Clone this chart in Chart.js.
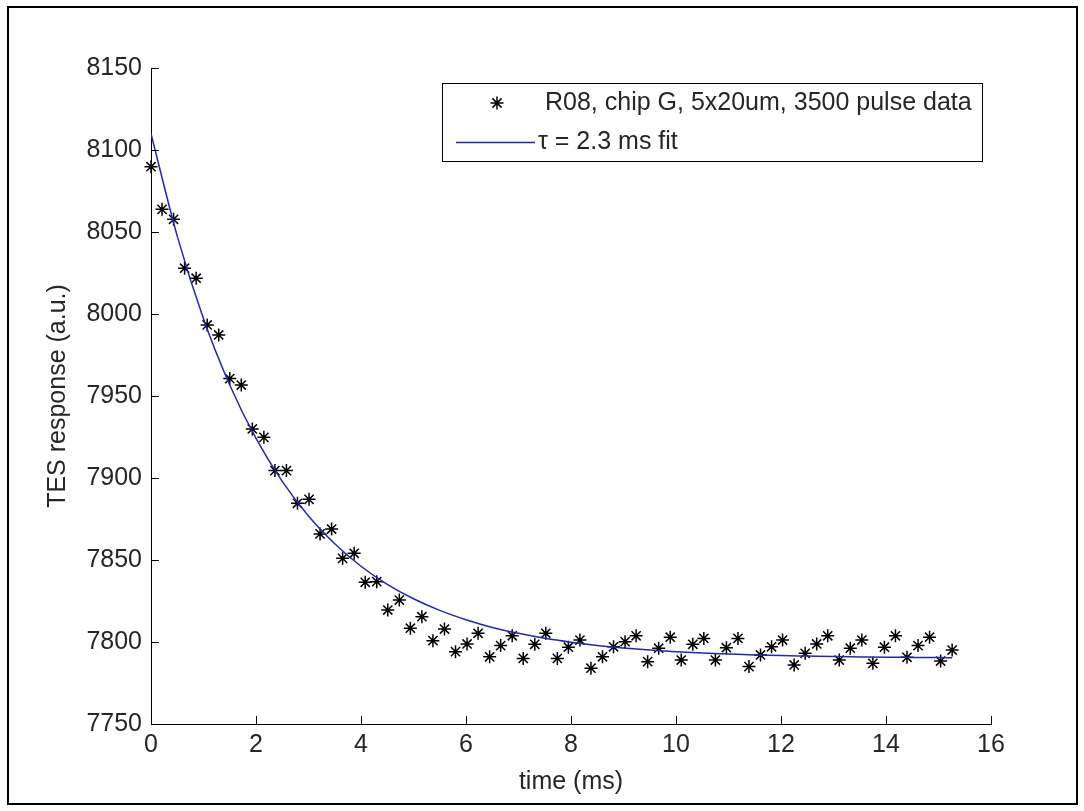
<!DOCTYPE html>
<html>
<head>
<meta charset="utf-8">
<script src="https://cdn.jsdelivr.net/npm/chart.js@4/dist/chart.umd.min.js"></script>
<style>
  html, body { margin: 0; padding: 0; background: #fff; }
  #wrap { width: 1084px; height: 811px; position: relative; }
</style>
</head>
<body>
<div id="wrap"><canvas id="c" width="1084" height="811"></canvas></div>
<script>
// ---- data ----
const timeMs = [0, 0.21, 0.43, 0.64, 0.86, 1.07, 1.29, 1.50, 1.72, 1.93,
  2.15, 2.36, 2.58, 2.79, 3.01, 3.22, 3.44, 3.65, 3.87, 4.08,
  4.30, 4.51, 4.73, 4.94, 5.16, 5.37, 5.59, 5.80, 6.02, 6.23,
  6.45, 6.66, 6.88, 7.09, 7.31, 7.52, 7.74, 7.95, 8.17, 8.38,
  8.60, 8.81, 9.03, 9.24, 9.46, 9.67, 9.89, 10.10, 10.32, 10.53,
  10.75, 10.96, 11.18, 11.39, 11.61, 11.82, 12.03, 12.25, 12.46, 12.68,
  12.89, 13.11, 13.32, 13.54, 13.75, 13.97, 14.18, 14.40, 14.61, 14.83,
  15.04, 15.26];
const pulseData = [8089.8, 8063.8, 8057.7, 8027.9, 8021.8, 7993.3, 7987.2, 7960.6, 7956.7, 7929.9,
  7924.8, 7904.5, 7904.5, 7884.6, 7887.0, 7865.9, 7868.9, 7851.0, 7854.1, 7836.4,
  7836.8, 7819.5, 7825.6, 7808.4, 7815.4, 7800.8, 7807.9, 7794.1, 7798.8, 7805.3,
  7791.0, 7797.8, 7803.8, 7790.0, 7798.6, 7805.3, 7790.0, 7796.8, 7801.2, 7784.0,
  7791.0, 7797.1, 7800.2, 7803.8, 7788.0, 7796.2, 7802.9, 7789.0, 7798.6, 7802.2,
  7789.0, 7796.5, 7802.2, 7785.0, 7792.1, 7797.1, 7801.2, 7786.0, 7793.1, 7798.8,
  7803.8, 7789.0, 7796.2, 7801.2, 7787.0, 7796.8, 7803.8, 7790.7, 7797.8, 7802.9,
  7788.4, 7795.1];
const fitTime = [0, 0.5, 1, 1.5, 2, 2.5, 3, 3.5, 4, 4.5, 5, 5.5, 6, 6.5, 7, 7.5, 8,
  8.5, 9, 9.5, 10, 10.5, 11, 11.5, 12, 12.5, 13, 13.5, 14, 14.5, 15, 15.26];
const fitValues = [8110, 8047.5, 7997.1, 7956.7, 7924.1, 7897.9, 7876.8, 7859.9, 7846.2, 7835.2,
  7826.4, 7819.3, 7813.6, 7808.9, 7805.3, 7802.3, 7799.9, 7797.9, 7796.4, 7795.1,
  7794.1, 7793.3, 7792.7, 7792.1, 7791.7, 7791.4, 7791.1, 7790.9, 7790.7, 7790.6,
  7790.5, 7790.4];
const xTickValues = [0, 2, 4, 6, 8, 10, 12, 14, 16];
const yTickValues = [7750, 7800, 7850, 7900, 7950, 8000, 8050, 8100, 8150];
const seriesLabels = ['R08, chip G, 5x20um, 3500 pulse data', '\u03C4 = 2.3 ms fit'];
const xTitle = 'time (ms)';
const yTitle = 'TES response (a.u.)';

// ---- styling ----
const FONT = '"Liberation Sans", Arial, sans-serif';
const TEXT = '#262626';
const FIT_COLOR = '#2525b0';

const framePlugin = {
  id: 'frame',
  beforeDraw(chart) {
    const ctx = chart.ctx;
    ctx.save();
    ctx.fillStyle = '#fff';
    ctx.fillRect(0, 0, chart.width, chart.height);
    ctx.strokeStyle = '#000';
    ctx.lineWidth = 2;
    ctx.strokeRect(8, 7, 1069, 797);
    ctx.restore();
  },
  afterDraw(chart) {
    const ctx = chart.ctx;
    const xs = chart.scales.x, ys = chart.scales.y;
    const a = chart.chartArea;
    ctx.save();
    ctx.strokeStyle = '#000';
    ctx.lineWidth = 1;
    ctx.beginPath();
    xTickValues.forEach(v => {
      const px = Math.round(xs.getPixelForValue(v)) + 0.5;
      ctx.moveTo(px, a.bottom);
      ctx.lineTo(px, a.bottom - 8);
    });
    yTickValues.forEach(v => {
      const py = Math.round(ys.getPixelForValue(v)) + 0.5;
      ctx.moveTo(a.left, py);
      ctx.lineTo(a.left + 8, py);
    });
    ctx.stroke();

    // legend box
    ctx.lineWidth = 1;
    ctx.fillStyle = '#fff';
    ctx.fillRect(442, 83, 541, 79);
    ctx.strokeRect(442.5, 83.5, 540, 78);
    // row 1 marker (asterisk)
    const mx = 497, my = 103, r = 6.5;
    ctx.beginPath();
    ctx.moveTo(mx - r, my); ctx.lineTo(mx + r, my);
    ctx.moveTo(mx, my - r); ctx.lineTo(mx, my + r);
    const d = r * Math.SQRT1_2;
    ctx.moveTo(mx - d, my - d); ctx.lineTo(mx + d, my + d);
    ctx.moveTo(mx - d, my + d); ctx.lineTo(mx + d, my - d);
    ctx.strokeStyle = '#000';
    ctx.lineWidth = 1.5;
    ctx.stroke();
    // row 2 line
    ctx.beginPath();
    ctx.moveTo(456, 142.5); ctx.lineTo(535, 142.5);
    ctx.strokeStyle = FIT_COLOR;
    ctx.lineWidth = 1.5;
    ctx.stroke();
    ctx.fillStyle = TEXT;
    ctx.font = '25px ' + FONT;
    ctx.textBaseline = 'middle';
    ctx.textAlign = 'left';
    ctx.fillText(seriesLabels[0], 545, 103);
    ctx.fillText(seriesLabels[1], 538, 142);
    ctx.restore();
  }
};

const ctx = document.getElementById('c').getContext('2d');
new Chart(ctx, {
  type: 'scatter',
  data: {
    datasets: [
      {
        label: seriesLabels[0],
        data: timeMs.map((t, i) => ({ x: t, y: pulseData[i] })),
        showLine: false,
        pointStyle: 'star',
        pointRadius: 6.5,
        pointBorderWidth: 1.5,
        borderColor: '#000',
        backgroundColor: '#000',
        clip: false,
        order: 1
      },
      {
        label: seriesLabels[1],
        data: fitTime.map((t, i) => ({ x: t, y: fitValues[i] })),
        showLine: true,
        pointRadius: 0,
        borderColor: FIT_COLOR,
        borderWidth: 1.5,
        cubicInterpolationMode: 'monotone',
        fill: false,
        order: 0
      }
    ]
  },
  options: {
    responsive: false,
    devicePixelRatio: 1,
    animation: false,
    events: [],
    layout: { padding: { top: 68, right: 93, left: 0, bottom: 0 } },
    plugins: { legend: { display: false }, tooltip: { enabled: false } },
    scales: {
      x: {
        type: 'linear',
        min: 0, max: 16,
        afterFit: s => { s.height = 87; },
        afterBuildTicks: s => { s.ticks = xTickValues.map(v => ({ value: v })); },
        ticks: { font: { family: FONT, size: 25 }, color: TEXT, padding: 6, maxRotation: 0,
                 callback: v => String(v) },
        grid: { display: false, drawTicks: false },
        border: { display: true, color: '#000', width: 1 },
        title: { display: true, text: xTitle, font: { family: FONT, size: 25 }, color: TEXT,
                 padding: { top: 0, bottom: 14 } }
      },
      y: {
        type: 'linear',
        min: 7750, max: 8150,
        afterFit: s => { s.width = 151; },
        afterBuildTicks: s => { s.ticks = yTickValues.map(v => ({ value: v })); },
        ticks: { font: { family: FONT, size: 25 }, color: TEXT, padding: 9,
                 callback: v => String(v) },
        grid: { display: false, drawTicks: false },
        border: { display: true, color: '#000', width: 1 },
        title: { display: true, text: yTitle, font: { family: FONT, size: 25 }, color: TEXT,
                 padding: { top: 43, bottom: 0 } }
      }
    }
  },
  plugins: [framePlugin]
});
</script>
</body>
</html>
